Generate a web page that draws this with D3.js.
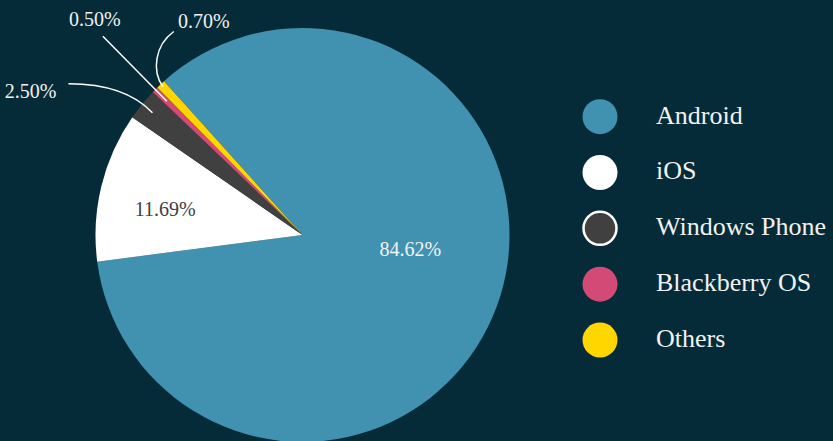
<!DOCTYPE html>
<html><head><meta charset="utf-8">
<script src="https://cdn.jsdelivr.net/npm/d3@7"></script>
<style>
html,body{margin:0;padding:0;background:#062b38;}
svg{display:block;}
text{font-family:"Liberation Serif","Times New Roman",serif;}
</style></head>
<body>
<script>
const categories = ["Android", "iOS", "Windows Phone", "Blackberry OS", "Others"];
const shares = [84.62, 11.69, 2.50, 0.50, 0.70];
const labels = ["84.62%", "11.69%", "2.50%", "0.50%", "0.70%"];
const colors = ["#4192b0", "#ffffff", "#404040", "#d34a77", "#ffd600"];

const W = 833, H = 441;
const svg = d3.select("body").append("svg").attr("width", W).attr("height", H);
svg.append("rect").attr("width", W).attr("height", H).attr("fill", "#062b38");

const cx = 302.5, cy = 235, R = 207;
const deg = Math.PI / 180;
const startA = -42 * deg;
const pie = d3.pie().sort(null).value(d => d)
  .startAngle(startA).endAngle(startA + 2 * Math.PI);
const arcs = pie(shares);
const arc = d3.arc().innerRadius(0).outerRadius(R);

const g = svg.append("g").attr("transform", `translate(${cx},${cy})`);
g.selectAll("path.slice").data(arcs).enter().append("path")
  .attr("class", "slice")
  .attr("d", arc)
  .attr("fill", (d, i) => colors[i]);

function polar(a, r) { return [Math.sin(a) * r, -Math.cos(a) * r]; }
const mid = d => (d.startAngle + d.endAngle) / 2;

// inside labels
const insideCfg = [
  { i: 0, da: -12.8 * deg, rf: 0.525, fill: "#f2f2f2" },
  { i: 1, da: -3 * deg, rf: 0.675, fill: "#404040" }
];
insideCfg.forEach(c => {
  const d = arcs[c.i];
  const [x, y] = polar(mid(d) + c.da, R * c.rf);
  g.append("text").attr("x", x).attr("y", y)
    .attr("text-anchor", "middle").attr("dominant-baseline", "central")
    .attr("font-size", 20).attr("fill", c.fill).text(labels[c.i]);
});

// outside labels with connectors
const outsideCfg = [
  { i: 2, rf: 0.935, label: [-122, -28], path: (e) => `M${e[0]-84},${e[1]-29} C${e[0]-45},${e[1]-29} ${e[0]-18},${e[1]-19} ${e[0]},${e[1]}`, anchor: "end", lx: -96, ly: -22 },
  { i: 3, rf: 0.92, path: (e) => `M${e[0]-64},${e[1]-65} L${e[0]},${e[1]}`, anchor: "middle", lx: -72, ly: -82 },
  { i: 4, rf: 0.985, path: (e) => `M${e[0]+11},${e[1]-55} C${e[0]-8},${e[1]-41} ${e[0]-11},${e[1]-16} ${e[0]},${e[1]}`, anchor: "middle", lx: 41, ly: -66 }
];
outsideCfg.forEach(c => {
  const d = arcs[c.i];
  const e = polar(mid(d), R * c.rf);
  g.append("path").attr("d", c.path(e)).attr("fill", "none")
    .attr("stroke", "#ffffff").attr("stroke-width", 1.5);
  g.append("text").attr("x", e[0] + c.lx).attr("y", e[1] + c.ly)
    .attr("text-anchor", c.anchor).attr("dominant-baseline", "central")
    .attr("font-size", 20).attr("fill", "#f2f2f2").text(labels[c.i]);
});

// legend
const ly = d3.scalePoint().domain(categories).range([116.7, 340]);
const leg = svg.append("g").selectAll("g").data(categories).enter().append("g")
  .attr("transform", d => `translate(600,${ly(d)})`);
leg.append("circle").attr("r", (d, i) => i === 2 ? 16.5 : 17.5)
  .attr("fill", (d, i) => colors[i])
  .attr("stroke", (d, i) => i === 2 ? "#ffffff" : "none")
  .attr("stroke-width", 2.5);
leg.append("text").attr("x", 56).attr("y", 6.8)
  .attr("font-size", 26).attr("fill", "#f2f2f2").text(d => d);
</script>
</body></html>
